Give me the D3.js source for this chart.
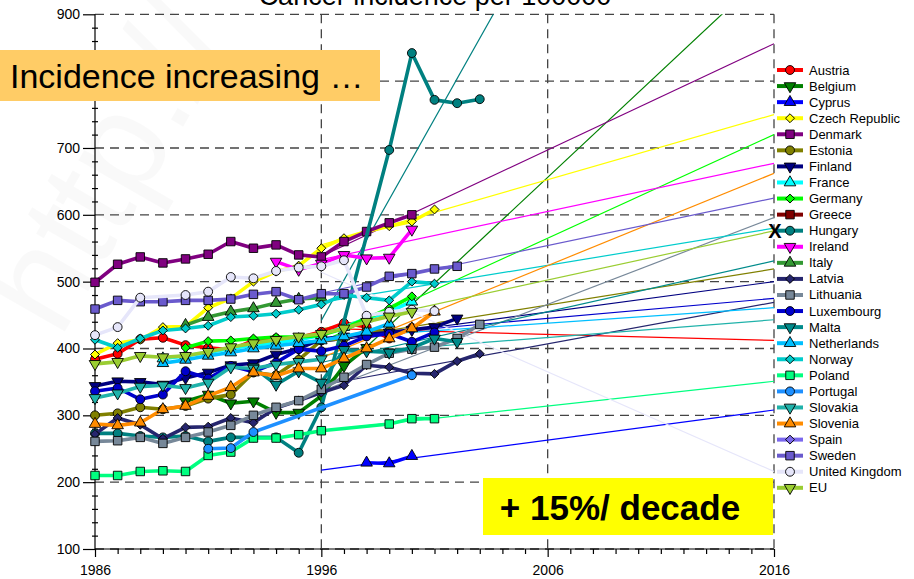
<!DOCTYPE html>
<html>
<head>
<meta charset="utf-8">
<script src="https://cdn.jsdelivr.net/npm/d3@7"></script>
<style>
  html, body { margin: 0; padding: 0; background: #fff; }
  svg { display: block; font-family: Arial, "Liberation Sans", sans-serif; }
</style>
</head>
<body>
<svg id="chart" width="914" height="579"></svg>
<script>
// Cancer incidence per 100000, 1986-2003, with linear trends drawn 1996-2016
const years = [1986,1987,1988,1989,1990,1991,1992,1993,1994,1995,1996,1997,1998,1999,2000,2001,2002,2003];

const austria     = [384,392,414,416,405,401,398,412,415,416,425,438,432,415,431,null,null,null];
const belgium     = [null,null,null,null,321,331,318,321,304,304,329,374,401,null,null,null,null,null];
const cyprus      = [null,null,null,null,null,null,null,null,null,null,null,null,229,228,239,null,null,null];
const czech       = [391,408,413,432,433,461,475,500,515,524,550,565,575,583,590,608,null,null];
const denmark     = [499,526,537,528,534,541,560,550,555,540,537,560,575,588,600,null,null,null];
const estonia     = [300,303,312,309,314,325,331,364,360,383,412,415,426,426,null,null,null,null];
const finland     = [344,351,350,346,356,364,375,378,391,400,414,418,421,424,428,432,445,null];
const france      = [null,null,null,385,389,394,400,405,409,413,420,432,445,455,470,null,null,null];
const germany     = [null,null,null,null,401,411,412,415,417,417,420,430,445,460,478,null,null,null];
const greece      = [null,null,null,null,null,null,null,null,null,null,null,null,null,null,null,null,null,null];
const hungary     = [273,273,269,267,269,261,267,267,267,244,312,null,null,697,842,772,767,773];
const ireland     = [null,null,null,null,null,null,null,null,530,518,527,540,535,536,578,null,null,null];
const italy       = [null,null,null,null,435,447,455,460,468,474,476,null,null,null,null,null,null,null];
const latvia      = [272,296,286,265,282,283,296,289,311,322,334,345,375,372,363,362,381,392];
const lithuania   = [261,262,267,258,267,275,285,300,312,322,339,357,376,393,399,402,415,436];
const luxembourg  = [336,341,324,331,366,355,374,365,379,399,396,404,418,422,410,424,null,null];
const malta       = [null,null,null,null,null,null,null,372,346,366,349,398,396,394,401,415,410,null];
const netherlands = [null,null,null,378,383,389,394,400,404,408,412,418,425,437,null,null,null,null];
const norway      = [413,401,415,427,430,434,447,449,452,458,466,480,476,472,500,497,null,null];
const poland      = [210,210,216,217,216,240,245,266,266,271,277,null,null,287,295,295,null,null];
const portugal    = [null,null,null,null,null,250,251,275,null,null,null,null,null,null,360,null,null,null];
const slovakia    = [326,333,343,345,341,349,372,370,376,380,384,null,null,null,null,null,null,null];
const slovenia    = [287,285,289,309,314,329,342,364,359,370,370,385,400,415,430,455,null,null];
const spain       = [null,null,null,null,null,null,null,null,null,null,null,null,null,null,null,null,null,null];
const sweden      = [459,472,470,470,472,472,474,481,485,473,482,482,492,508,512,519,523,null];
const uk          = [420,432,476,null,480,485,507,505,516,521,523,532,449,455,458,456,null,null];
const eu          = [377,380,389,387,389,395,402,408,413,418,422,430,440,448,455,null,null,null];

const countries = ["Austria","Belgium","Cyprus","Czech Republic","Denmark","Estonia","Finland","France",
  "Germany","Greece","Hungary","Ireland","Italy","Latvia","Lithuania","Luxembourg","Malta","Netherlands",
  "Norway","Poland","Portugal","Slovakia","Slovenia","Spain","Sweden","United Kingdom","EU"];
const values = [austria,belgium,cyprus,czech,denmark,estonia,finland,france,germany,greece,hungary,ireland,
  italy,latvia,lithuania,luxembourg,malta,netherlands,norway,poland,portugal,slovakia,slovenia,spain,sweden,uk,eu];

// trend line values at 1996 and at 2016 (null: no trend drawn)
const trendYears = [1996, 2016];
const trendStart = [430,339,218,555,538,411,409,null,410,null,442,533,null,345,336,415,379,415,469,277,null,390,386,null,483,514,429];
const trendEnd   = [412,973,308,750,856,519,500,null,720,null,1648,677,null,469,596,475,531,461,580,351,null,443,662,null,625,216,576];

const colors = ["#ff0000","#008000","#0000ff","#ffff00","#800080","#808000","#000080","#00ffff",
  "#00ff00","#800000","#008080","#ff00ff","#339933","#26266e","#778899","#0000cc","#008b8b","#00bfff",
  "#00cccc","#00ff80","#1e90ff","#20b2aa","#ff8c00","#7b68ee","#6a5acd","#e6e6fa","#9acd32"];
const symbols = ["circle","down","up","diamond","square","circle","down","up","diamond","square","circle",
  "down","up","diamond","square","circle","down","up","diamond","square","circle","down","up","diamond",
  "square","circle","down"];

const yTicks = [100,200,300,400,500,600,700,800,900];
const xTicks = [1986,1996,2006,2016];

const svg = d3.select("#chart");
const x = d3.scaleLinear().domain([1986, 2016]).range([95, 774]);
const y = d3.scaleLinear().domain([100, 900]).range([549, 14.3]);

svg.append("defs").append("clipPath").attr("id", "plotclip")
  .append("rect").attr("x", x(1986)).attr("y", y(900)).attr("width", x(2016) - x(1986)).attr("height", y(100) - y(900));

// faint background watermark
svg.append("text")
  .attr("transform", "translate(60,340) rotate(-60)")
  .attr("font-size", 140)
  .attr("fill", "#000").attr("fill-opacity", 0.022)
  .text("http://");

// title (runs off the top edge)
svg.append("text").attr("x", 435).attr("y", 5).attr("text-anchor", "middle")
  .attr("font-size", 27).attr("fill", "#000").text("Cancer incidence per 100000");

// dashed grid
const grid = svg.append("g").attr("stroke", "#444").attr("stroke-width", 1.3).attr("stroke-dasharray", "9,6").attr("fill", "none");
grid.selectAll("line.h").data(yTicks).join("line").attr("class", "h")
  .attr("x1", x(1986)).attr("x2", x(2016)).attr("y1", d => y(d)).attr("y2", d => y(d));
grid.selectAll("line.v").data(xTicks.slice(1)).join("line").attr("class", "v")
  .attr("x1", d => x(d)).attr("x2", d => x(d)).attr("y1", y(900)).attr("y2", y(100));

// axes
const yAxis = svg.append("g").attr("transform", `translate(${x(1986)},0)`)
  .call(d3.axisLeft(y).tickValues(yTicks).tickSize(12).tickPadding(3).tickFormat(d3.format("d")));
svg.append("g").attr("transform", `translate(${x(1986) + 3},0)`)
  .call(d3.axisLeft(y).tickValues(d3.range(100, 901, 20).filter(v => v % 100)).tickSize(6).tickFormat(""))
  .select(".domain").remove();
const xAxis = svg.append("g").attr("transform", `translate(0,${y(100)})`)
  .call(d3.axisBottom(x).tickValues(xTicks).tickSize(8).tickPadding(8).tickFormat(d3.format("d")));
svg.append("g").attr("transform", `translate(0,${y(100)})`)
  .call(d3.axisBottom(x).tickValues(d3.range(1986, 2017).filter(v => (v - 1986) % 10)).tickSize(5).tickFormat(""))
  .select(".domain").remove();
svg.selectAll(".tick text").attr("font-size", 14).attr("fill", "#000")
  .attr("font-family", "Arial, 'Liberation Sans', sans-serif");
svg.selectAll(".domain, .tick line").attr("stroke", "#000").attr("stroke-width", 1.2);
yAxis.select(".domain").attr("d", `M0,${y(900)}V${y(100)}`);
xAxis.select(".domain").attr("d", `M${x(1986)},0H${x(2016)}`);

// trend lines
const trendG = svg.append("g").attr("clip-path", "url(#plotclip)");
countries.forEach((c, i) => {
  if (trendStart[i] == null) return;
  trendG.append("line")
    .attr("x1", x(trendYears[0])).attr("y1", y(trendStart[i]))
    .attr("x2", x(trendYears[1])).attr("y2", y(trendEnd[i]))
    .attr("stroke", colors[i]).attr("stroke-width", 1.2);
});

function marker(sel, kind) {
  const sq = d3.symbol().type(d3.symbolSquare).size(72);
  const ci = d3.symbol().type(d3.symbolCircle).size(62);
  const tr = d3.symbol().type(d3.symbolTriangle).size(58);
  if (kind === "circle") sel.attr("d", ci());
  else if (kind === "square") sel.attr("d", sq());
  else if (kind === "diamond") sel.attr("d", d3.symbol().type(d3.symbolSquare).size(40)()).attr("data-rot", 45);
  else if (kind === "up") sel.attr("d", tr());
  else sel.attr("d", tr()).attr("data-rot", 180);
}

// data series: thick lines with outlined markers
const line = d3.line().x(d => x(d.year)).y(d => y(d.value));
countries.forEach((c, i) => {
  const pts = years.map((yr, k) => ({ year: yr, value: values[i][k] })).filter(d => d.value != null);
  if (!pts.length) return;
  const g = svg.append("g");
  g.append("path").datum(pts).attr("d", line).attr("fill", "none")
    .attr("stroke", colors[i]).attr("stroke-width", 3.6).attr("stroke-linejoin", "round");
  g.selectAll("path.m").data(pts).join("path").attr("class", "m")
    .each(function () { marker(d3.select(this), symbols[i]); })
    .attr("transform", function (d) {
      const r = d3.select(this).attr("data-rot") || 0;
      return `translate(${x(d.year)},${y(d.value)}) rotate(${r})`;
    })
    .attr("fill", colors[i]).attr("stroke", "#000").attr("stroke-width", 0.9);
});

// legend
const leg = svg.append("g");
countries.forEach((c, i) => {
  const ly = 70 + i * 16.07;
  leg.append("line").attr("x1", 777).attr("x2", 803).attr("y1", ly).attr("y2", ly)
    .attr("stroke", colors[i]).attr("stroke-width", 4);
  leg.append("path").each(function () { marker(d3.select(this), symbols[i]); })
    .attr("transform", function () {
      const r = d3.select(this).attr("data-rot") || 0;
      return `translate(790,${ly}) rotate(${r})`;
    })
    .attr("fill", colors[i]).attr("stroke", "#000").attr("stroke-width", 0.9);
  leg.append("text").attr("x", 809).attr("y", ly + 4.5).attr("font-size", 13).attr("fill", "#000").text(c);
});

svg.append("text").attr("x", 775).attr("y", 238).attr("text-anchor", "middle")
  .attr("font-size", 20).attr("font-weight", "bold").text("X");

// annotation boxes
svg.append("rect").attr("x", 0).attr("y", 50).attr("width", 380).attr("height", 51).attr("fill", "#ffcc66");
svg.append("text").attr("x", 10).attr("y", 88).attr("font-size", 34).attr("fill", "#000").text("Incidence increasing …");

svg.append("rect").attr("x", 483).attr("y", 478).attr("width", 290).attr("height", 57).attr("fill", "#ffff00");
svg.append("text").attr("x", 620).attr("y", 520).attr("text-anchor", "middle")
  .attr("font-size", 35).attr("font-weight", "bold").attr("fill", "#000").text("+ 15%/ decade");
</script>
</body>
</html>
